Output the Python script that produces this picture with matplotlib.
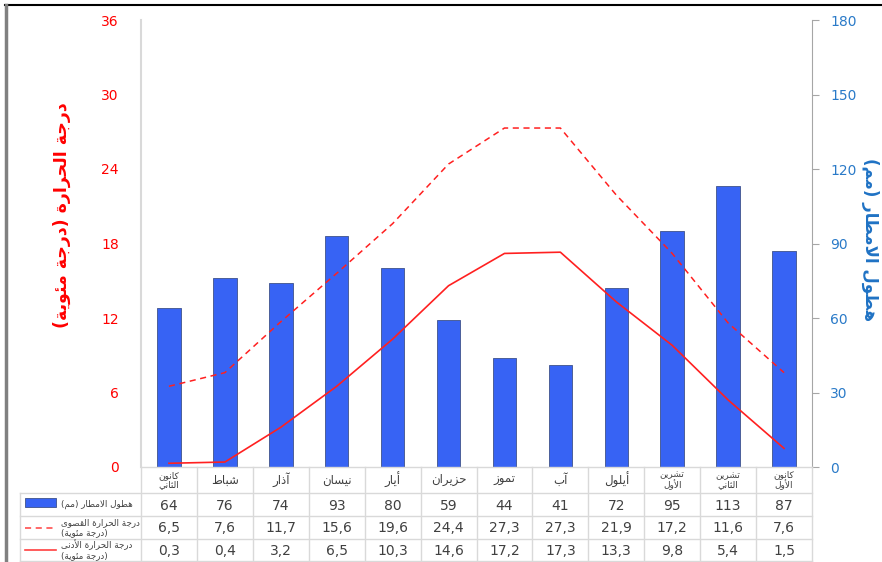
import matplotlib
matplotlib.use("Agg")
import matplotlib.pyplot as plt
from matplotlib.lines import Line2D
from matplotlib.patches import Rectangle

months = ['كانون\nالثاني', 'شباط', 'آذار', 'نيسان', 'أيار', 'حزيران', 'تموز', 'آب',
          'أيلول', 'تشرين\nالأول', 'تشرين\nالثاني', 'كانون\nالأول']
rain = [64, 76, 74, 93, 80, 59, 44, 41, 72, 95, 113, 87]
tmax = [6.5, 7.6, 11.7, 15.6, 19.6, 24.4, 27.3, 27.3, 21.9, 17.2, 11.6, 7.6]
tmin = [0.3, 0.4, 3.2, 6.5, 10.3, 14.6, 17.2, 17.3, 13.3, 9.8, 5.4, 1.5]
temp_ticks = [0, 6, 12, 18, 24, 30, 36]
rain_ticks = [0, 30, 60, 90, 120, 150, 180]

lbl_rain = 'هطول الامطار (مم)'
lbl_tmax = 'درجة الحرارة القصوى\n(درجة مئوية)'
lbl_tmin = 'درجة الحرارة الأدنى\n(درجة مئوية)'
ylab_left = 'درجة الحرارة (درجة مئوية)'
ylab_right = 'هطول الامطار (مم)'

# minimal arabic shaping (matplotlib has no bidi / joining support)
ISO = {'ا': 0xFE8D, 'آ': 0xFE81, 'أ': 0xFE83, 'ب': 0xFE8F, 'ة': 0xFE93, 'ت': 0xFE95,
       'ث': 0xFE99, 'ج': 0xFE9D, 'ح': 0xFEA1, 'د': 0xFEA9, 'ذ': 0xFEAB, 'ر': 0xFEAD,
       'ز': 0xFEAF, 'س': 0xFEB1, 'ش': 0xFEB5, 'ص': 0xFEB9, 'ط': 0xFEC1, 'ق': 0xFED5,
       'ك': 0xFED9, 'ل': 0xFEDD, 'م': 0xFEE1, 'ن': 0xFEE5, 'ه': 0xFEE9, 'و': 0xFEED,
       'ى': 0xFEEF, 'ي': 0xFEF1, 'ئ': 0xFE89, 'لا': 0xFEFB, 'لأ': 0xFEF7, 'لآ': 0xFEF5}
RIGHT_ONLY = set('اآأةدذرزوى') | {'لا', 'لأ', 'لآ'}


def shape_line(s):
    toks = []
    i = 0
    while i < len(s):
        if s[i] == 'ل' and i + 1 < len(s) and s[i + 1] in 'اأآ':
            toks.append(s[i:i + 2])
            i += 2
        else:
            toks.append(s[i])
            i += 1
    out = []
    for k, t in enumerate(toks):
        if t not in ISO:
            out.append({'(': ')', ')': '('}.get(t, t))
            continue
        prev = k > 0 and toks[k - 1] in ISO and toks[k - 1] not in RIGHT_ONLY
        nxt = t not in RIGHT_ONLY and k + 1 < len(toks) and toks[k + 1] in ISO
        if t in RIGHT_ONLY:
            off = 1 if prev else 0
        else:
            off = {(False, False): 0, (True, False): 1, (False, True): 2, (True, True): 3}[(prev, nxt)]
        out.append(chr(ISO[t] + off))
    return ''.join(reversed(out))


def ar(s):
    return '\n'.join(shape_line(l) for l in s.split('\n'))


def comma(v):
    return f'{v:.1f}'.replace('.', ',')


W, H = 882, 562
fig = plt.figure(figsize=(W / 100, H / 100), dpi=100)
X0, X1, YT, YB = 141, 812, 20, 467
ax = fig.add_axes([X0 / W, 1 - YB / H, (X1 - X0) / W, (YB - YT) / H])
ax2 = ax.twinx()

x = list(range(len(months)))
ax2.bar(x, rain, width=0.42, color='#3763F4', edgecolor='#4b5f9a', linewidth=0.7)
ax.plot(x, tmax, color='#FF2020', lw=1.1, dashes=(4, 3))
ax.plot(x, tmin, color='#FF2020', lw=1.2)
ax.set_zorder(ax2.get_zorder() + 1)
ax.patch.set_visible(False)

ax.set_xlim(-0.5, 11.5)
ax.set_ylim(0, 36)
ax2.set_ylim(0, 180)
ax.set_yticks(temp_ticks)
ax2.set_yticks(rain_ticks)
ax.set_xticks([])
ax.tick_params(axis='y', length=0, pad=16, labelsize=10, labelcolor='#FF0000')
ax2.tick_params(axis='y', length=5, pad=8, labelsize=10, labelcolor='#2A7AC8',
                color='#a6a6a6', direction='out')
for a in (ax, ax2):
    for sp in a.spines.values():
        sp.set_visible(False)
ax.spines['left'].set_visible(True)
ax.spines['left'].set_color('#d9d9d9')
ax.spines['left'].set_linewidth(1.5)
ax2.spines['right'].set_visible(True)
ax2.spines['right'].set_color('#a6a6a6')

fig.text(62 / W, 1 - 215 / H, ar(ylab_left), rotation=90, color='#FF0000', fontsize=12.5,
         fontweight='bold', ha='center', va='center')
fig.text(870 / W, 1 - 240 / H, ar(ylab_right), rotation=-90, color='#1F72C4', fontsize=12,
         fontweight='bold', ha='center', va='center')

# data table under the plot, in pixel coordinates
tb = fig.add_axes([0, 0, 1, 1])
tb.set_xlim(0, W)
tb.set_ylim(H, 0)
tb.axis('off')
cw = (X1 - X0) / len(months)
rows = [467, 493, 516, 539, 561]
gc = '#d9d9d9'
for y in rows[1:]:
    tb.add_line(Line2D([20, X1], [y, y], color=gc, lw=1))
tb.add_line(Line2D([20, 20], [rows[1], rows[-1]], color=gc, lw=1))
for k in range(len(months) + 1):
    tb.add_line(Line2D([X0 + k * cw] * 2, [rows[0], rows[-1]], color=gc, lw=1))
tb.add_line(Line2D([X0, X1], [YB, YB], color=gc, lw=1))

for k, m in enumerate(months):
    cx = X0 + (k + 0.5) * cw
    two = '\n' in m
    tb.text(cx, (rows[0] + rows[1]) / 2, ar(m), ha='center', va='center', color='#404040',
            fontsize=6.5 if two else 8.5, linespacing=1.1)
    for r, vals in enumerate([rain, tmax, tmin]):
        v = vals[k]
        s = str(v) if r == 0 else comma(v)
        tb.text(cx, (rows[r + 1] + rows[r + 2]) / 2 + 1, s, ha='center', va='center',
                color='#404040', fontsize=10)

tb.add_patch(Rectangle((25, 498), 31, 9, facecolor='#3763F4', edgecolor='#4b5f9a', lw=0.7))
tb.add_line(Line2D([25, 56], [527.5, 527.5], color='#FF4040', lw=1.1, dashes=(4, 3)))
tb.add_line(Line2D([25, 56], [550, 550], color='#FF4040', lw=1.2))
for r, t in enumerate([lbl_rain, lbl_tmax, lbl_tmin]):
    tb.text(61, (rows[r + 1] + rows[r + 2]) / 2, ar(t), ha='left', va='center',
            color='#404040', fontsize=6.3, linespacing=1.15)

# outer frame
tb.add_line(Line2D([5, W], [5, 5], color='black', lw=1.5))
tb.add_line(Line2D([6, 6], [5, H], color='#808080', lw=2.5))

fig.savefig('out.png', dpi=100)
